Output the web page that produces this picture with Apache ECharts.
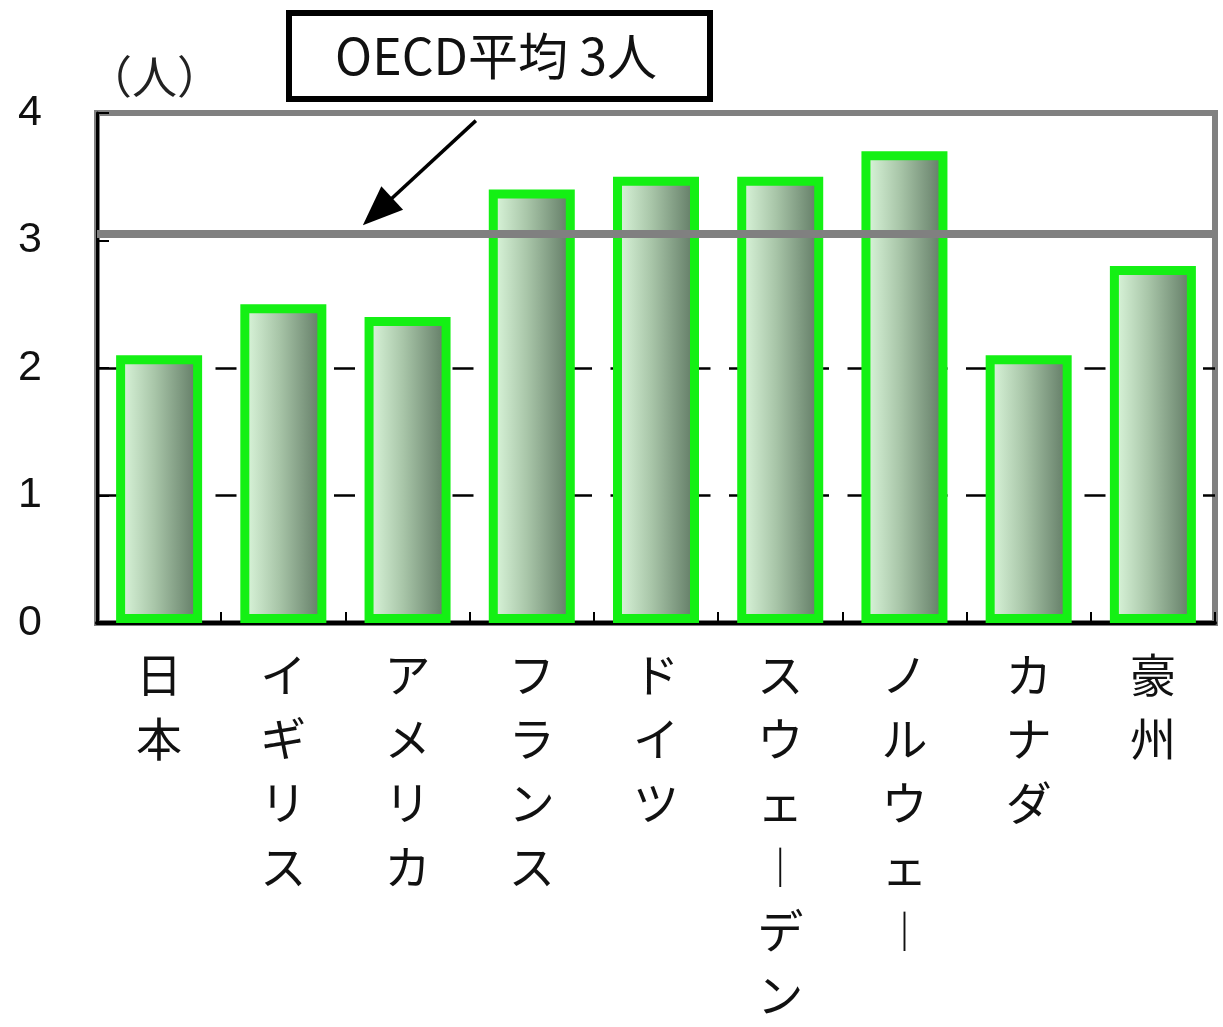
<!DOCTYPE html>
<html>
<head>
<meta charset="utf-8">
<script src="https://cdn.jsdelivr.net/npm/echarts@6/dist/echarts.min.js"></script>
<style>
html,body{margin:0;padding:0;background:#fff;}
#main{width:1223px;height:1027px;}
</style>
</head>
<body>
<div id="main"></div>
<script>
const categories = ['日本', 'イギリス', 'アメリカ', 'フランス', 'ドイツ', 'スウェーデン', 'ノルウェー', 'カナダ', '豪州'];
const values = [2.1, 2.5, 2.4, 3.4, 3.5, 3.5, 3.7, 2.1, 2.8];
const oecdLineLevel = 3.05;
const yTicks = [0, 1, 2, 3, 4];
const dashedGridLevels = [1, 2];
const unitLabel = '（人）';
const calloutText = 'OECD平均 3人';

const chart = echarts.init(document.getElementById('main'));

function verticalLabel(s) {
  return s.split('').map(c => c === 'ー' ? '︱' : c).join('\n');
}

const option = {
  backgroundColor: '#ffffff',
  animation: false,
  grid: {
    left: 97, right: 8, top: 113, bottom: 400,
    show: true, borderColor: '#808080', borderWidth: 6, backgroundColor: 'transparent'
  },
  xAxis: {
    type: 'category',
    data: categories,
    axisLine: { lineStyle: { color: '#000', width: 4 } },
    axisTick: { show: true, inside: true, length: 11, alignWithLabel: false, lineStyle: { color: '#000', width: 2 } },
    axisLabel: {
      interval: 0,
      margin: 20,
      formatter: verticalLabel,
      fontFamily: 'Noto Sans CJK JP',
      fontSize: 46,
      lineHeight: 64,
      color: '#111'
    },
    splitLine: { show: false }
  },
  yAxis: {
    type: 'value',
    min: yTicks[0], max: yTicks[yTicks.length - 1], interval: 1,
    axisLine: { show: true, lineStyle: { color: '#000', width: 3 } },
    axisTick: { show: true, inside: true, length: 12, lineStyle: { color: '#000', width: 2 } },
    axisLabel: {
      margin: 55,
      fontFamily: 'Liberation Sans',
      fontSize: 43,
      color: '#111'
    },
    splitLine: { show: false }
  },
  series: [
    {
      type: 'bar',
      name: 'grid',
      data: [],
      z: 1,
      markLine: {
        silent: true,
        z: 1,
        symbol: ['none', 'none'],
        label: { show: false },
        lineStyle: { color: '#000', width: 2.5, type: [21, 18.5] },
        data: dashedGridLevels.map(v => ({ yAxis: v }))
      }
    },
    {
      type: 'bar',
      data: values,
      barWidth: 86,
      barGap: '-100%',
      z: 3,
      itemStyle: {
        color: {
          type: 'linear', x: 0, y: 0, x2: 1, y2: 0,
          colorStops: [
            { offset: 0, color: '#e2fde2' },
            { offset: 0.45, color: '#a8c5a8' },
            { offset: 1, color: '#5a735e' }
          ]
        },
        borderColor: '#14f014',
        borderWidth: 9
      },
      markLine: {
        silent: true,
        z: 10,
        symbol: ['none', 'none'],
        label: { show: false },
        lineStyle: { color: '#808080', width: 8, type: 'solid' },
        data: [{ yAxis: oecdLineLevel }]
      }
    }
  ]
};
chart.setOption(option);

// callout box, unit label and arrow (annotation), positioned relative to the grid
const c1 = chart.convertToPixel({ gridIndex: 0 }, [1, 0]);
const c2 = chart.convertToPixel({ gridIndex: 0 }, [2, 0]);
const step = c2[0] - c1[0];
const yPix = v => chart.convertToPixel({ yAxisIndex: 0 }, v);
const axisX = chart.convertToPixel({ gridIndex: 0 }, [0, 0])[0] - step / 2;
const arrowStart = [c1[0] + 1.55 * step, yPix(3.94)];
const arrowEnd = [c1[0] + 0.64 * step, yPix(3.12)];
const dx = arrowEnd[0] - arrowStart[0], dy = arrowEnd[1] - arrowStart[1];
const len = Math.sqrt(dx * dx + dy * dy);
const ux = dx / len, uy = dy / len;
const headLen = 40, headW = 16;
const base = [arrowEnd[0] - ux * headLen, arrowEnd[1] - uy * headLen];

chart.setOption({
  graphic: [
    {
      type: 'text',
      x: axisX - 10, y: yPix(4) - 36,
      style: {
        text: unitLabel,
        fontFamily: 'Noto Sans CJK JP',
        fontSize: 45,
        fill: '#222',
        align: 'left',
        verticalAlign: 'middle'
      }
    },
    {
      type: 'rect',
      shape: { x: 289, y: 13, width: 421, height: 86 },
      style: { fill: '#fff', stroke: '#000', lineWidth: 6 },
      z: 20
    },
    {
      type: 'text',
      x: 496, y: 56,
      style: {
        text: calloutText,
        fontFamily: 'Noto Sans CJK JP',
        fontSize: 50,
        fill: '#111',
        align: 'center',
        verticalAlign: 'middle'
      },
      z: 21
    },
    {
      type: 'line',
      shape: { x1: arrowStart[0], y1: arrowStart[1], x2: base[0] + ux * 4, y2: base[1] + uy * 4 },
      style: { stroke: '#000', lineWidth: 3.5 },
      z: 20
    },
    {
      type: 'polygon',
      shape: {
        points: [
          arrowEnd,
          [base[0] - uy * headW, base[1] + ux * headW],
          [base[0] + uy * headW, base[1] - ux * headW]
        ]
      },
      style: { fill: '#000' },
      z: 20
    }
  ]
});
</script>
</body>
</html>
